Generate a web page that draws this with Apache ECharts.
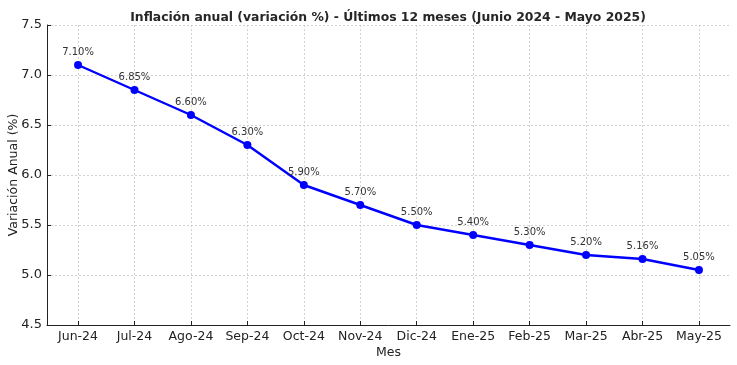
<!DOCTYPE html>
<html><head><meta charset="utf-8">
<script src="https://cdn.jsdelivr.net/npm/echarts@6/dist/echarts.min.js"></script>
<style>html,body{margin:0;padding:0;background:#fff}#c{width:737px;height:365px}</style>
</head><body><div id="c"></div>
<script>
const categories = ['Jun-24','Jul-24','Ago-24','Sep-24','Oct-24','Nov-24','Dic-24','Ene-25','Feb-25','Mar-25','Abr-25','May-25'];
const inflation = [7.10, 6.85, 6.60, 6.30, 5.90, 5.70, 5.50, 5.40, 5.30, 5.20, 5.16, 5.05];
const yTicks = [4.5, 5.0, 5.5, 6.0, 6.5, 7.0, 7.5];
const titleText = 'Inflación anual (variación %) - Últimos 12 meses (Junio 2024 - Mayo 2025)';

const font = 'DejaVu Sans';
const idx = categories.map((_, i) => i);
const chart = echarts.init(document.getElementById('c'), null, {renderer: 'canvas'});
chart.setOption({
  animation: false,
  backgroundColor: '#fff',
  title: {
    text: titleText, left: 383, top: 7, textAlign: 'center',
    textStyle: {fontFamily: font, fontSize: 12.4, fontWeight: 'bold', color: '#262626'}
  },
  grid: {left: 47, right: 7, top: 25, bottom: 40, containLabel: false, outerBoundsMode: 'none'},
  xAxis: {
    type: 'value', min: -0.55, max: 11.55,
    name: 'Mes', nameLocation: 'middle', nameGap: 21, nameMoveOverlap: false,
    nameTextStyle: {fontFamily: font, fontSize: 12.5, color: '#222'},
    axisLine: {show: true, onZero: false, lineStyle: {color: '#222', width: 1}},
    axisTick: {show: true, inside: true, length: 4, customValues: idx, lineStyle: {color: '#222'}},
    axisLabel: {customValues: idx, formatter: v => categories[Math.round(v)], fontFamily: font, fontSize: 12.5, color: '#222', margin: 5},
    splitLine: {show: true, lineStyle: {color: '#c8c8c8', type: [2, 2], width: 0.8}}
  },
  yAxis: {
    type: 'value', min: 4.5, max: 7.5, interval: 0.5,
    name: 'Variación Anual (%)', nameLocation: 'middle', nameGap: 27, nameRotate: 90, nameMoveOverlap: false,
    nameTextStyle: {fontFamily: font, fontSize: 12.5, color: '#222'},
    axisLine: {show: true, onZero: false, lineStyle: {color: '#222', width: 1}},
    axisTick: {show: true, inside: true, length: 4, lineStyle: {color: '#222'}},
    axisLabel: {formatter: v => v.toFixed(1), fontFamily: font, fontSize: 13, color: '#222', margin: 5},
    splitLine: {show: true, lineStyle: {color: '#c8c8c8', type: [2, 2], width: 0.8}}
  },
  series: [{
    type: 'line',
    data: inflation.map((v, i) => [i, v]),
    symbol: 'circle', symbolSize: 8,
    itemStyle: {color: '#0000ff'},
    lineStyle: {color: '#0000ff', width: 2.4},
    label: {show: true, position: 'top', distance: 4, formatter: p => p.value[1].toFixed(2) + '%', fontFamily: font, fontSize: 10, color: '#333'}
  }]
});
</script></body></html>
